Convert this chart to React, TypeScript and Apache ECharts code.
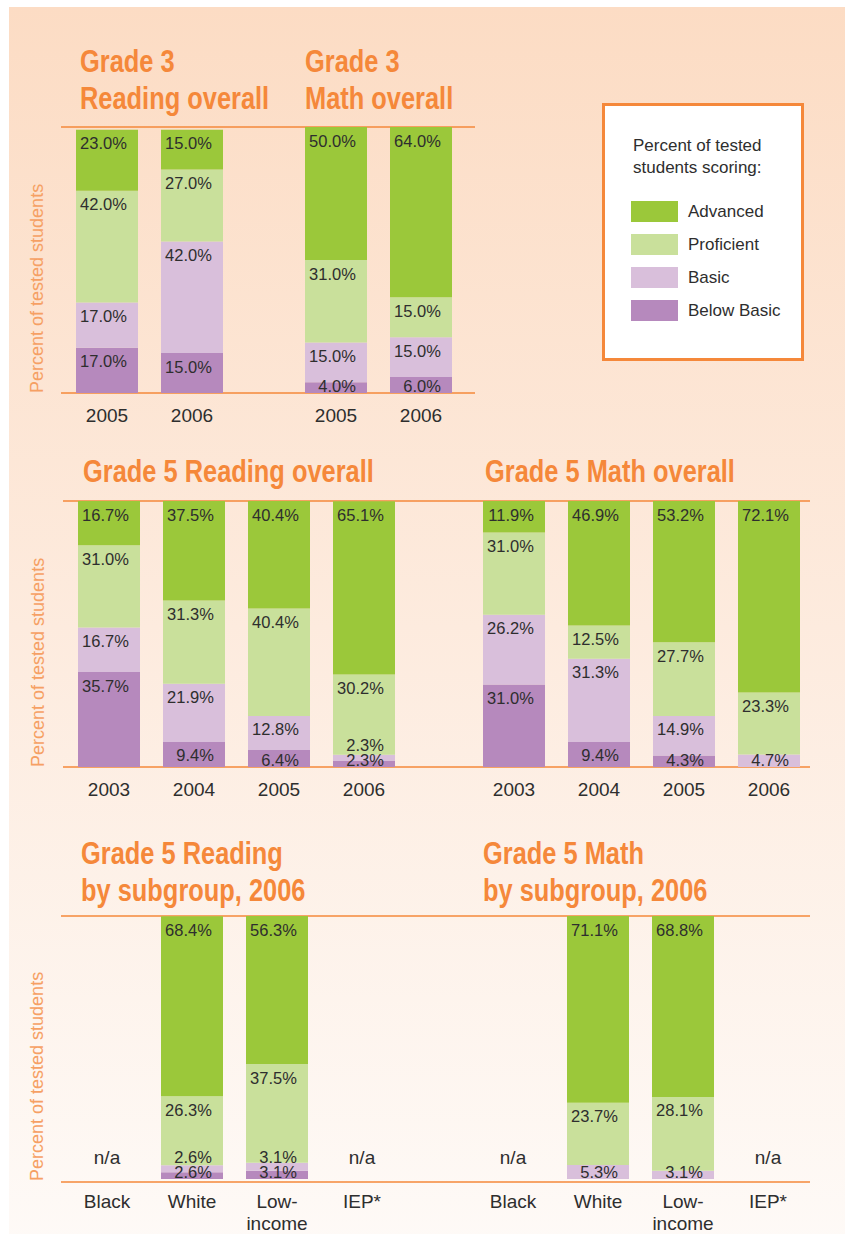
import React, { useEffect, useRef } from 'react';
import * as echarts from 'echarts';

// ---------- data ----------
const LEVELS = ['Advanced', 'Proficient', 'Basic', 'Below Basic'];
const LEVEL_COLORS = ['#9BC83A', '#C9E09B', '#D9BFDB', '#B689BD'];

const g3Years = ['2005', '2006'];
const g3ReadAdvanced = [23.0, 15.0];
const g3ReadProficient = [42.0, 27.0];
const g3ReadBasic = [17.0, 42.0];
const g3ReadBelow = [17.0, 15.0];

const g3MathAdvanced = [50.0, 64.0];
const g3MathProficient = [31.0, 15.0];
const g3MathBasic = [15.0, 15.0];
const g3MathBelow = [4.0, 6.0];

const g5Years = ['2003', '2004', '2005', '2006'];
const g5ReadAdvanced = [16.7, 37.5, 40.4, 65.1];
const g5ReadProficient = [31.0, 31.3, 40.4, 30.2];
const g5ReadBasic = [16.7, 21.9, 12.8, 2.3];
const g5ReadBelow = [35.7, 9.4, 6.4, 2.3];

const g5MathAdvanced = [11.9, 46.9, 53.2, 72.1];
const g5MathProficient = [31.0, 12.5, 27.7, 23.3];
const g5MathBasic = [26.2, 31.3, 14.9, 4.7];
const g5MathBelow: (number | string)[] = [31.0, 9.4, 4.3, '-'];

const subgroups = ['Black', 'White', 'Low-\nincome', 'IEP*'];
const subReadAdvanced: (number | string)[] = ['-', 68.4, 56.3, '-'];
const subReadProficient: (number | string)[] = ['-', 26.3, 37.5, '-'];
const subReadBasic: (number | string)[] = ['-', 2.6, 3.1, '-'];
const subReadBelow: (number | string)[] = ['-', 2.6, 3.1, '-'];
const subReadNA: (number | string)[] = [0, '-', '-', 0];

const subMathAdvanced: (number | string)[] = ['-', 71.1, 68.8, '-'];
const subMathProficient: (number | string)[] = ['-', 23.7, 28.1, '-'];
const subMathBasic: (number | string)[] = ['-', 5.3, 3.1, '-'];
const subMathBelow: (number | string)[] = ['-', '-', '-', '-'];
const subMathNA: (number | string)[] = [0, '-', '-', 0];

const titles = [
  'Grade 3\nReading overall',
  'Grade 3\nMath overall',
  'Grade 5 Reading overall',
  'Grade 5 Math overall',
  'Grade 5 Reading\nby subgroup, 2006',
  'Grade 5 Math\nby subgroup, 2006',
];
const yAxisName = 'Percent of tested students';
const legendTitle = 'Percent of tested\nstudents scoring:';

// ---------- styles / layout ----------
const ORANGE = '#F5883A';
const TEXT = '#2E2E2E';
const REG = "'Liberation Sans', Arial, sans-serif";
const PLOT_H = 266;

const panels = [
  { cats: g3Years, levels: [g3ReadAdvanced, g3ReadProficient, g3ReadBasic, g3ReadBelow], na: null, grid: { left: 64.5, top: 127, width: 170, height: PLOT_H } },
  { cats: g3Years, levels: [g3MathAdvanced, g3MathProficient, g3MathBasic, g3MathBelow], na: null, grid: { left: 293.5, top: 127, width: 170, height: PLOT_H } },
  { cats: g5Years, levels: [g5ReadAdvanced, g5ReadProficient, g5ReadBasic, g5ReadBelow], na: null, grid: { left: 66.5, top: 501, width: 340, height: PLOT_H } },
  { cats: g5Years, levels: [g5MathAdvanced, g5MathProficient, g5MathBasic, g5MathBelow], na: null, grid: { left: 471.5, top: 501, width: 340, height: PLOT_H } },
  { cats: subgroups, levels: [subReadAdvanced, subReadProficient, subReadBasic, subReadBelow], na: subReadNA, grid: { left: 64.5, top: 916, width: 340, height: PLOT_H } },
  { cats: subgroups, levels: [subMathAdvanced, subMathProficient, subMathBasic, subMathBelow], na: subMathNA, grid: { left: 470.5, top: 916, width: 340, height: PLOT_H } },
];

const titlePos = [
  [80, 43], [305, 43], [83, 453], [485, 453], [81, 835], [483, 835],
];

// label vertical offset (px from segment top): near top of segment, kept inside
// small segments and stacked above the label beneath when segments are tiny
function labelOffsets(levels: (number | string)[][], nCats: number) {
  const scale = PLOT_H / 100;
  const out: number[][] = levels.map(() => new Array(nCats).fill(5));
  for (let di = 0; di < nCats; di++) {
    let cum = 0;
    let prevTop: number | null = null;
    for (let li = levels.length - 1; li >= 0; li--) {
      const v = levels[li][di];
      if (typeof v !== 'number') continue;
      const segBottom = -cum * scale;
      const segTop = segBottom - v * scale;
      let top = Math.min(segTop + 5, segBottom - 16);
      if (prevTop !== null) top = Math.min(top, prevTop - 15);
      out[li][di] = top - segTop;
      prevTop = top;
      cum += v;
    }
  }
  return out;
}

function buildOption() {
  const grid: any[] = [];
  const xAxis: any[] = [];
  const yAxis: any[] = [];
  const series: any[] = [];

  panels.forEach((p, gi) => {
    grid.push({ ...p.grid, containLabel: false });
    xAxis.push({
      type: 'category', gridIndex: gi, data: p.cats,
      axisLine: { show: false }, axisTick: { show: false },
      axisLabel: { color: TEXT, fontSize: 19, fontFamily: REG, margin: 11, lineHeight: 22, interval: 0 },
    });
    yAxis.push({
      type: 'value', gridIndex: gi, min: 0, max: 100,
      axisLine: { show: false }, axisTick: { show: false }, axisLabel: { show: false }, splitLine: { show: false },
    });
    const offs = labelOffsets(p.levels, p.cats.length);
    for (let li = LEVELS.length - 1; li >= 0; li--) {
      series.push({
        type: 'bar', name: LEVELS[li], xAxisIndex: gi, yAxisIndex: gi, stack: 's' + gi,
        barWidth: 62,
        data: p.levels[li].map((v, di) =>
          typeof v === 'number' ? { value: v, label: { position: ['82%', offs[li][di]] } } : '-'
        ),
        itemStyle: { color: LEVEL_COLORS[li] },
        label: {
          show: true, color: TEXT, fontSize: 16.5, fontFamily: REG, align: 'right', verticalAlign: 'top',
          formatter: (prm: any) => Number(prm.value).toFixed(1) + '%',
        },
      });
    }
    if (p.na) {
      series.push({
        type: 'bar', name: 'n/a', xAxisIndex: gi, yAxisIndex: gi, stack: 's' + gi,
        barWidth: 62, data: p.na, itemStyle: { color: 'transparent' },
        label: { show: true, position: 'top', distance: 12, formatter: 'n/a', color: TEXT, fontSize: 19, fontFamily: REG },
      });
    }
  });

  const lines: [number, number, number][] = [
    [61, 475, 127], [61, 475, 393],
    [63, 810, 501], [63, 810, 767],
    [61, 810, 916], [61, 810, 1182],
  ];

  const graphic: any[] = [
    {
      type: 'rect', z: -100, shape: { x: 9, y: 7, width: 836, height: 1240 },
      style: {
        fill: new echarts.graphic.LinearGradient(0, 0, 0, 1, [
          { offset: 0, color: '#FCDCC4' },
          { offset: 0.5, color: '#FDEBDE' },
          { offset: 1, color: '#FEFAF7' },
        ]),
      },
    },
    ...lines.map(([x1, x2, y]) => ({
      type: 'line', z: -50, shape: { x1, y1: y, x2, y2: y },
      style: { stroke: ORANGE, lineWidth: 1.5 },
    })),
    ...titles.map((t, i) => ({
      type: 'text', z: 10, x: titlePos[i][0], y: titlePos[i][1], scaleX: 0.82,
      style: { text: t, fill: ORANGE, font: `bold 31px ${REG}`, lineHeight: 37, align: 'left', verticalAlign: 'top' },
    })),
    ...[[37, 393], [38, 767], [37, 1181]].map(([x, y]) => ({
      type: 'text', z: 10, x, y, rotation: Math.PI / 2,
      style: { text: yAxisName, fill: '#F6A064', font: `18px ${REG}`, align: 'left', verticalAlign: 'middle' },
    })),
    {
      type: 'rect', z: -40, shape: { x: 603.5, y: 104.5, width: 199, height: 255 },
      style: { fill: '#FFFFFF', stroke: ORANGE, lineWidth: 3 },
    },
    {
      type: 'text', z: 10, x: 633, y: 134,
      style: { text: legendTitle, fill: TEXT, font: `17px ${REG}`, lineHeight: 22, align: 'left', verticalAlign: 'top' },
    },
  ];

  return {
    animation: false,
    backgroundColor: '#FFFFFF',
    grid, xAxis, yAxis, series, graphic,
    legend: {
      data: LEVELS, orient: 'vertical', left: 631, top: 201, padding: 0, z: 20,
      itemWidth: 47, itemHeight: 21, itemGap: 12, icon: 'rect', selectedMode: false,
      textStyle: { color: TEXT, fontSize: 17, fontFamily: REG, padding: [0, 0, 0, 5] },
    },
  };
}

export default function App() {
  const ref = useRef<HTMLDivElement>(null);
  useEffect(() => {
    if (!ref.current) return;
    const chart = echarts.init(ref.current, null, { renderer: 'svg' });
    chart.setOption(buildOption() as any);
    return () => chart.dispose();
  }, []);
  return <div ref={ref} style={{ position: 'absolute', left: 0, top: 0, width: 849, height: 1234 }} />;
}
